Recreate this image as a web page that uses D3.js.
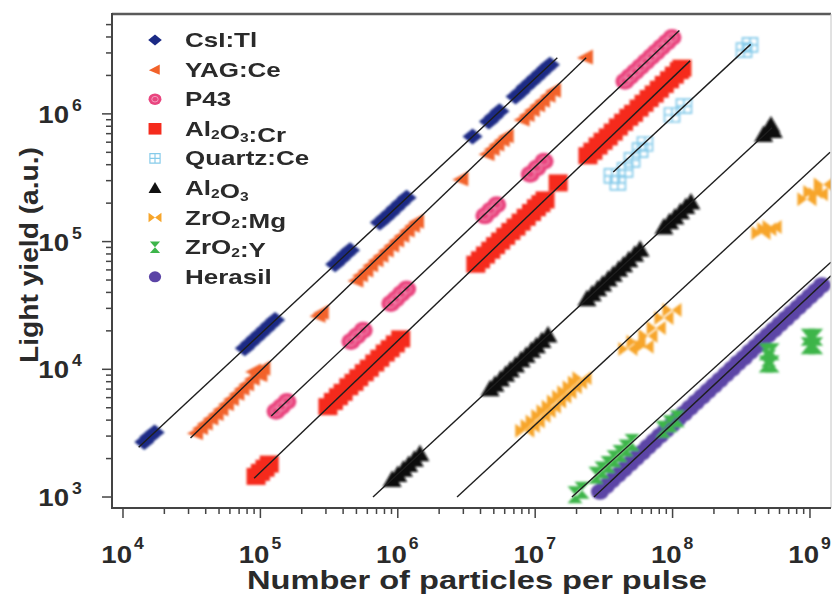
<!DOCTYPE html>
<html>
<head>
<meta charset="utf-8">
<script src="https://cdn.jsdelivr.net/npm/d3@7"></script>
<style>
  body { margin: 0; background: #fff; }
  text { font-family: "Liberation Sans", Arial, sans-serif; font-weight: bold; fill: #2a2a2a; }
</style>
</head>
<body>
<svg id="chart" width="840" height="595"></svg>
<script>
// Light yield vs. number of particles per pulse, log-log, nine scintillators.

// ---- data ----
var xTickValues = [1e4, 1e5, 1e6, 1e7, 1e8, 1e9];
var yTickValues = [1e3, 1e4, 1e5, 1e6];
var xTitle = "Number of particles per pulse";
var yTitle = "Light yield (a.u.)";

// "_n" marks a subscript digit
var seriesNames = ["CsI:Tl", "YAG:Ce", "P43", "Al_2O_3:Cr", "Quartz:Ce", "Al_2O_3", "ZrO_2:Mg", "ZrO_2:Y", "Herasil"];

var csiPoints = [
	[1.43e4, 2.7e3], [1.55e4, 2.95e3], [1.7e4, 3.2e3],
	[7.7e4, 1.46e4], [8.4e4, 1.6e4], [9.2e4, 1.75e4], [1.0e5, 1.9e4], [1.09e5, 2.07e4], [1.18e5, 2.24e4], [1.28e5, 2.43e4],
	[3.5e5, 6.65e4], [3.85e5, 7.3e4], [4.2e5, 8.0e4], [4.5e5, 8.55e4],
	[7.4e5, 1.41e5], [8.1e5, 1.54e5], [8.8e5, 1.67e5], [9.6e5, 1.82e5], [1.05e6, 2.0e5], [1.16e6, 2.2e5],
	[3.5e6, 6.65e5],
	[4.6e6, 8.7e5], [5.0e6, 9.5e5], [5.5e6, 1.05e6],
	[7.2e6, 1.37e6], [7.8e6, 1.48e6], [8.5e6, 1.62e6], [9.3e6, 1.77e6], [1.01e7, 1.92e6], [1.1e7, 2.09e6], [1.2e7, 2.28e6], [1.28e7, 2.43e6]
];
var yagPoints = [
	[3.4e4, 3.2e3], [3.7e4, 3.5e3], [4.0e4, 3.8e3], [4.4e4, 4.15e3], [4.8e4, 4.5e3], [5.2e4, 4.9e3], [5.7e4, 5.4e3],
	[6.2e4, 5.9e3], [6.8e4, 6.5e3], [7.4e4, 7.1e3], [8.0e4, 7.7e3], [8.8e4, 8.5e3], [9.6e4, 9.3e3], [1.05e5, 1.02e4],
	[9.0e4, 9.7e3], [1.0e5, 9.1e3],
	[2.65e5, 2.65e4], [2.8e5, 2.8e4],
	[5.0e5, 5.0e4], [5.4e5, 5.5e4], [5.9e5, 6.0e4], [6.4e5, 6.6e4], [7.0e5, 7.2e4], [7.6e5, 7.8e4], [8.3e5, 8.6e4],
	[9.1e5, 9.4e4], [9.9e5, 1.03e5], [1.08e6, 1.12e5], [1.18e6, 1.23e5], [1.29e6, 1.34e5], [1.38e6, 1.44e5],
	[2.9e6, 3.1e5],
	[4.5e6, 4.9e5], [4.9e6, 5.35e5], [5.3e6, 5.8e5], [5.8e6, 6.3e5], [6.2e6, 6.75e5],
	[8.1e6, 9.1e5], [8.8e6, 9.9e5], [9.6e6, 1.08e6], [1.05e7, 1.18e6], [1.14e7, 1.28e6], [1.25e7, 1.4e6], [1.37e7, 1.53e6],
	[2.34e7, 2.79e6]
];
var p43Points = [
	[1.3e5, 4.7e3], [1.42e5, 5.1e3], [1.56e5, 5.6e3],
	[4.56e5, 1.65e4], [5.05e5, 1.82e4], [5.6e5, 2.02e4],
	[8.9e5, 3.27e4], [9.7e5, 3.55e4], [1.06e6, 3.9e4], [1.16e6, 4.25e4],
	[4.3e6, 1.59e5], [4.75e6, 1.76e5], [5.25e6, 1.94e5],
	[9.2e6, 3.37e5], [1.03e7, 3.77e5], [1.16e7, 4.25e5],
	[4.5e7, 1.8e6], [4.9e7, 1.96e6], [5.35e7, 2.14e6], [5.85e7, 2.34e6], [6.4e7, 2.56e6],
	[7.0e7, 2.8e6], [7.6e7, 3.04e6], [8.3e7, 3.32e6], [9.1e7, 3.64e6], [9.9e7, 3.96e6]
];
var al2o3CrPoints = [
	[9.3e4, 1.45e3], [1.0e5, 1.56e3], [1.08e5, 1.68e3], [1.16e5, 1.81e3],
	[3.1e5, 5.1e3], [3.4e5, 5.6e3], [3.7e5, 6.1e3], [4.0e5, 6.6e3], [4.4e5, 7.3e3], [4.8e5, 7.9e3], [5.2e5, 8.6e3],
	[5.7e5, 9.4e3], [6.2e5, 1.02e4], [6.8e5, 1.12e4], [7.4e5, 1.22e4], [8.1e5, 1.34e4], [8.8e5, 1.45e4], [9.6e5, 1.58e4], [1.05e6, 1.73e4],
	[3.7e6, 6.65e4], [4.0e6, 7.2e4], [4.35e6, 7.85e4], [4.75e6, 8.55e4], [5.15e6, 9.3e4], [5.6e6, 1.01e5], [6.1e6, 1.1e5],
	[6.65e6, 1.2e5], [7.25e6, 1.3e5], [7.9e6, 1.42e5], [8.6e6, 1.55e5], [9.4e6, 1.69e5], [1.02e7, 1.84e5], [1.1e7, 1.98e5], [1.18e7, 2.12e5],
	[1.47e7, 2.88e5],
	[2.42e7, 4.7e5], [2.63e7, 5.1e5], [2.87e7, 5.6e5], [3.12e7, 6.1e5], [3.4e7, 6.6e5], [3.7e7, 7.2e5], [4.03e7, 7.9e5],
	[4.4e7, 8.6e5], [4.8e7, 9.4e5], [5.2e7, 1.01e6], [5.7e7, 1.11e6], [6.2e7, 1.21e6], [6.75e7, 1.32e6], [7.35e7, 1.43e6],
	[8.0e7, 1.56e6], [8.7e7, 1.7e6], [9.5e7, 1.85e6], [1.03e8, 2.01e6], [1.12e8, 2.18e6], [1.17e8, 2.28e6]
];
var quartzPoints = [
	[3.62e7, 3.27e5], [4.0e7, 2.88e5], [4.51e7, 3.64e5], [5.07e7, 4.36e5], [5.8e7, 5.21e5], [6.3e7, 5.81e5],
	[9.9e7, 9.8e5], [1.21e8, 1.15e6],
	[3.31e8, 3.16e6], [3.66e8, 3.47e6]
];
var al2o3Points = [
	[9.1e5, 1.37e3], [1.0e6, 1.5e3], [1.1e6, 1.65e3], [1.2e6, 1.8e3], [1.32e6, 1.98e3], [1.45e6, 2.18e3],
	[4.7e6, 7.05e3], [5.1e6, 7.65e3], [5.6e6, 8.4e3], [6.1e6, 9.15e3], [6.6e6, 9.9e3], [7.2e6, 1.08e4],
	[7.9e6, 1.19e4], [8.6e6, 1.29e4], [9.4e6, 1.41e4], [1.02e7, 1.53e4], [1.12e7, 1.68e4], [1.24e7, 1.86e4],
	[2.38e7, 3.57e4], [2.6e7, 3.9e4], [2.85e7, 4.28e4], [3.1e7, 4.65e4], [3.4e7, 5.1e4], [3.7e7, 5.55e4],
	[4.05e7, 6.08e4], [4.4e7, 6.6e4], [4.8e7, 7.2e4], [5.3e7, 7.95e4], [5.8e7, 8.7e4],
	[8.65e7, 1.3e5], [9.5e7, 1.43e5], [1.04e8, 1.56e5], [1.14e8, 1.71e5], [1.25e8, 1.88e5], [1.36e8, 2.04e5],
	[4.6e8, 6.9e5], [5.0e8, 7.6e5], [5.2e8, 8.2e5], [5.4e8, 7.4e5]
];
var zro2MgPoints = [
	[8.4e6, 3.3e3], [9.2e6, 3.6e3], [1.0e7, 3.9e3], [1.1e7, 4.3e3], [1.2e7, 4.7e3], [1.31e7, 5.1e3],
	[1.43e7, 5.6e3], [1.56e7, 6.1e3], [1.7e7, 6.6e3], [1.86e7, 7.25e3], [2.03e7, 7.9e3], [2.19e7, 8.5e3],
	[4.73e7, 1.44e4], [5.42e7, 1.64e4], [6.2e7, 1.5e4], [6.62e7, 1.82e4], [7.6e7, 2.11e4], [8.65e7, 2.52e4], [9.9e7, 2.91e4],
	[4.4e8, 1.17e5], [4.85e8, 1.25e5], [5.3e8, 1.3e5],
	[9.5e8, 2.15e5], [1.05e9, 2.45e5], [1.15e9, 2.35e5], [1.25e9, 2.8e5]
];
var zro2YPoints = [
	[1.95e7, 1.04e3], [2.19e7, 1.13e3],
	[2.77e7, 1.48e3], [3.06e7, 1.63e3], [3.39e7, 1.8e3], [3.75e7, 1.99e3], [4.14e7, 2.19e3], [4.58e7, 2.42e3], [5.07e7, 2.67e3],
	[8.5e7, 3.4e3], [9.6e7, 3.75e3], [1.08e8, 4.1e3],
	[4.8e8, 1.37e4], [5.3e8, 1.37e4], [4.8e8, 1.1e4], [5.3e8, 1.1e4], [5.0e8, 1.22e4],
	[9.7e8, 1.78e4], [1.1e9, 1.78e4], [9.7e8, 1.53e4], [1.1e9, 1.53e4], [1.03e9, 1.65e4]
];
var herasilPoints = [
	[2.96e7, 1.1e3], [3.28e7, 1.22e3], [3.62e7, 1.35e3], [4.0e7, 1.49e3], [4.43e7, 1.65e3], [4.9e7, 1.83e3],
	[5.42e7, 2.02e3], [5.99e7, 2.23e3], [6.62e7, 2.47e3], [7.32e7, 2.73e3], [8.1e7, 3.02e3], [8.95e7, 3.34e3],
	[9.9e7, 3.69e3], [1.09e8, 4.07e3], [1.21e8, 4.51e3], [1.34e8, 5.0e3], [1.48e8, 5.52e3], [1.64e8, 6.12e3],
	[1.81e8, 6.75e3], [2.0e8, 7.46e3], [2.21e8, 8.24e3], [2.45e8, 9.14e3], [2.71e8, 1.01e4], [2.99e8, 1.12e4],
	[3.31e8, 1.23e4], [3.66e8, 1.37e4], [4.05e8, 1.51e4], [4.47e8, 1.67e4], [4.95e8, 1.85e4], [5.47e8, 2.04e4],
	[6.05e8, 2.26e4], [6.69e8, 2.5e4], [7.4e8, 2.76e4], [8.18e8, 3.05e4], [9.04e8, 3.37e4], [1.0e9, 3.73e4],
	[1.1e9, 4.1e4], [1.22e9, 4.55e4]
];

// fitted lines: [start, end] per series, same order as seriesNames
var fitLines = [
	[[1.3e4, 2.45e3], [1.45e7, 2.75e6]],
	[[3.1e4, 2.9e3], [2.35e7, 2.75e6]],
	[[1.2e5, 4.3e3], [1.12e8, 4.5e6]],
	[[9.0e4, 1.4e3], [1.34e8, 2.6e6]],
	[[3.7e7, 3.5e5], [3.7e8, 3.5e6]],
	[[6.6e5, 1.0e3], [5.3e8, 7.8e5]],
	[[2.7e6, 1.0e3], [1.4e9, 5.0e5]],
	[[1.85e7, 1.0e3], [1.42e9, 6.9e4]],
	[[2.68e7, 1.0e3], [1.42e9, 5.4e4]]
];

var seriesPoints = [csiPoints, yagPoints, p43Points, al2o3CrPoints, quartzPoints,
	al2o3Points, zro2MgPoints, zro2YPoints, herasilPoints];

// ---- styles ----
var seriesStyles = [
	{ shape: "diamond",   color: "#1b2a85" },
	{ shape: "triLeft",   color: "#f2622a" },
	{ shape: "ring",      color: "#e9457f" },
	{ shape: "square",    color: "#f52b1d" },
	{ shape: "crossSq",   color: "#86cbea" },
	{ shape: "triUp",     color: "#111111" },
	{ shape: "bowtie",    color: "#f7a52a" },
	{ shape: "hourglass", color: "#3db54a" },
	{ shape: "circle",    color: "#5b44a6" }
];
// Herasil is drawn before ZrO2:Y so the green sits on top
var drawOrder = [0, 1, 2, 3, 4, 5, 6, 8, 7];

var shapePaths = {
	diamond:   "M0,-8L10,0L0,8L-10,0Z",
	triLeft:   "M-9,1L7,-7.5L7,7.5Z",
	ring:      "M-9.5,0A9.5,8.5 0 1,0 9.5,0A9.5,8.5 0 1,0 -9.5,0Z",
	square:    "M-9.5,-8.5H9.5V8.5H-9.5Z",
	crossSq:   "M-7.5,-7H7.5V7H-7.5Z M-7.5,0H7.5 M0,-7V7",
	triUp:     "M0,-9L9.5,7.5L-9.5,7.5Z",
	bowtie:    "M-9.5,-7L0,0L-9.5,7Z M9.5,-7L0,0L9.5,7Z",
	hourglass: "M-7.5,-8.5L7.5,-8.5L0,0Z M-7.5,8.5L7.5,8.5L0,0Z",
	circle:    "M-9,0A9,8 0 1,0 9,0A9,8 0 1,0 -9,0Z"
};
// legend markers are drawn smaller than plot markers
var legendMarkerScale = 0.68;

// ---- layout ----
var svg = d3.select("#chart");
var plotLeft = 112, plotRight = 831, plotTop = 14, plotBottom = 508;
var xStretch = 1.3;   // the picture's text is wide

var x = d3.scaleLog()
	.domain([Math.pow(10, 3.92), Math.pow(10, 9.153)])
	.range([plotLeft, plotRight]);
var y = d3.scaleLog()
	.domain([Math.pow(10, 2.914), Math.pow(10, 6.782)])
	.range([plotBottom, plotTop]);

var defs = svg.append("defs");
defs.append("clipPath").attr("id", "plotClip")
	.append("rect")
	.attr("x", plotLeft).attr("y", plotTop)
	.attr("width", plotRight - plotLeft).attr("height", plotBottom - plotTop);
defs.append("filter").attr("id", "soft")
	.append("feGaussianBlur").attr("stdDeviation", 0.9);

function styleMarker(sel, st) {
	if (st.shape === "crossSq") {
		sel.attr("fill", "none").attr("stroke", st.color).attr("stroke-width", 1.7);
	} else {
		sel.attr("fill", st.color).attr("stroke", "none");
	}
}

// ---- markers ----
var plot = svg.append("g").attr("clip-path", "url(#plotClip)");
var marks = plot.append("g").attr("filter", "url(#soft)");

drawOrder.forEach(function(si) {
	var st = seriesStyles[si];
	var g = marks.append("g").attr("class", "series s" + si);
	var pts = g.selectAll("path.pt")
		.data(seriesPoints[si])
		.enter()
			.append("path")
			.attr("class", "pt")
			.attr("transform", function(d) { return "translate(" + x(d[0]) + "," + y(d[1]) + ")"; })
			.attr("d", shapePaths[st.shape]);
	styleMarker(pts, st);
	if (st.shape === "ring") {
		g.selectAll("ellipse.inner")
			.data(seriesPoints[si])
			.enter()
				.append("ellipse")
				.attr("class", "inner")
				.attr("cx", function(d) { return x(d[0]); })
				.attr("cy", function(d) { return y(d[1]); })
				.attr("rx", 4.5).attr("ry", 4)
				.attr("fill", "none")
				.attr("stroke", "#f39bbd")
				.attr("stroke-width", 1);
	}
});

// ---- fit lines ----
plot.append("g").selectAll("line.fit")
	.data(fitLines)
	.enter()
		.append("line")
		.attr("class", "fit")
		.attr("x1", function(d) { return x(d[0][0]); })
		.attr("y1", function(d) { return y(d[0][1]); })
		.attr("x2", function(d) { return x(d[1][0]); })
		.attr("y2", function(d) { return y(d[1][1]); })
		.attr("stroke", "#1e1e1e")
		.attr("stroke-width", 1.4);

// ---- frame and axes ----
var axisColor = "#444";
svg.append("line").attr("x1", plotLeft).attr("y1", plotTop).attr("x2", plotRight).attr("y2", plotTop)
	.attr("stroke", "#5a5a5a").attr("stroke-width", 2.5);
svg.append("line").attr("x1", plotRight).attr("y1", plotTop).attr("x2", plotRight).attr("y2", plotBottom)
	.attr("stroke", "#c4c4c4").attr("stroke-width", 1);
svg.append("line").attr("x1", plotLeft).attr("y1", plotTop - 1).attr("x2", plotLeft).attr("y2", plotBottom + 1)
	.attr("stroke", axisColor).attr("stroke-width", 2);
svg.append("line").attr("x1", plotLeft - 1).attr("y1", plotBottom).attr("x2", plotRight).attr("y2", plotBottom)
	.attr("stroke", axisColor).attr("stroke-width", 2);

function isMajor(v) { return Math.abs(Math.log10(v) - Math.round(Math.log10(v))) < 1e-9; }

var xMinor = x.ticks().filter(function(v) { return !isMajor(v) && v > xTickValues[0] && v < xTickValues[xTickValues.length - 1]; });
var yMinor = y.ticks().filter(function(v) { return !isMajor(v) && v > yTickValues[0] && v < 5.5e6; });

var ticks = svg.append("g").attr("stroke", axisColor).attr("stroke-width", 1.5);
ticks.selectAll("line.xmaj").data(xTickValues).enter().append("line")
	.attr("x1", function(d) { return x(d); }).attr("x2", function(d) { return x(d); })
	.attr("y1", plotBottom).attr("y2", plotBottom + 10);
ticks.selectAll("line.xmin").data(xMinor).enter().append("line")
	.attr("x1", function(d) { return x(d); }).attr("x2", function(d) { return x(d); })
	.attr("y1", plotBottom).attr("y2", plotBottom + 6);
ticks.selectAll("line.ymaj").data(yTickValues).enter().append("line")
	.attr("y1", function(d) { return y(d); }).attr("y2", function(d) { return y(d); })
	.attr("x1", plotLeft).attr("x2", plotLeft - 10);
ticks.selectAll("line.ymin").data(yMinor).enter().append("line")
	.attr("y1", function(d) { return y(d); }).attr("y2", function(d) { return y(d); })
	.attr("x1", plotLeft).attr("x2", plotLeft - 6);

// power-of-ten labels: "10" plus a raised exponent
function stretchedText(g, px, py, str, size, anchor, sx) {
	return g.append("text")
		.attr("transform", "translate(" + px + "," + py + ") scale(" + sx + ",1)")
		.attr("text-anchor", anchor)
		.style("font-size", size + "px")
		.text(str);
}

var labels = svg.append("g");
xTickValues.forEach(function(v) {
	var px = x(v);
	stretchedText(labels, px + 9, 563, "10", 24, "end", 1.15);
	stretchedText(labels, px + 11, 549, String(Math.round(Math.log10(v))), 16, "start", 1.1);
});
yTickValues.forEach(function(v) {
	var py = y(v);
	stretchedText(labels, 69, py + 9, "10", 24, "end", 1.15);
	stretchedText(labels, 72, py - 3, String(Math.round(Math.log10(v))), 16, "start", 1.1);
});

// axis titles
svg.append("text")
	.attr("x", 477).attr("y", 589)
	.attr("text-anchor", "middle")
	.attr("textLength", 460).attr("lengthAdjust", "spacingAndGlyphs")
	.style("font-size", "25px")
	.text(xTitle);
svg.append("text")
	.attr("transform", "translate(38,255) rotate(-90)")
	.attr("text-anchor", "middle")
	.attr("textLength", 216).attr("lengthAdjust", "spacingAndGlyphs")
	.style("font-size", "26px")
	.text(yTitle);

// ---- legend ----
var legend = svg.append("g").attr("class", "legend");
seriesNames.forEach(function(name, i) {
	var st = seriesStyles[i];
	var cy = 40 + i * 29.6;
	var m = legend.append("path")
		.attr("transform", "translate(155," + cy + ") scale(" + legendMarkerScale + ")")
		.attr("d", shapePaths[st.shape]);
	styleMarker(m, st);
	if (st.shape === "ring") {
		legend.append("ellipse").attr("cx", 155).attr("cy", cy).attr("rx", 3.2).attr("ry", 2.8)
			.attr("fill", "none").attr("stroke", "#f39bbd").attr("stroke-width", 1);
	}
	var t = legend.append("text")
		.attr("transform", "translate(185," + (cy + 7) + ") scale(" + xStretch + ",1)")
		.style("font-size", "20px");
	var parts = name.split(/_(\d)/);
	parts.forEach(function(p, k) {
		if (p === "") return;
		if (k % 2 === 1) {
			t.append("tspan").attr("dy", 3).style("font-size", "12px").text(p);
			t.append("tspan").attr("dy", -3).text("");
		} else {
			t.append("tspan").text(p);
		}
	});
});
</script>
</body>
</html>
